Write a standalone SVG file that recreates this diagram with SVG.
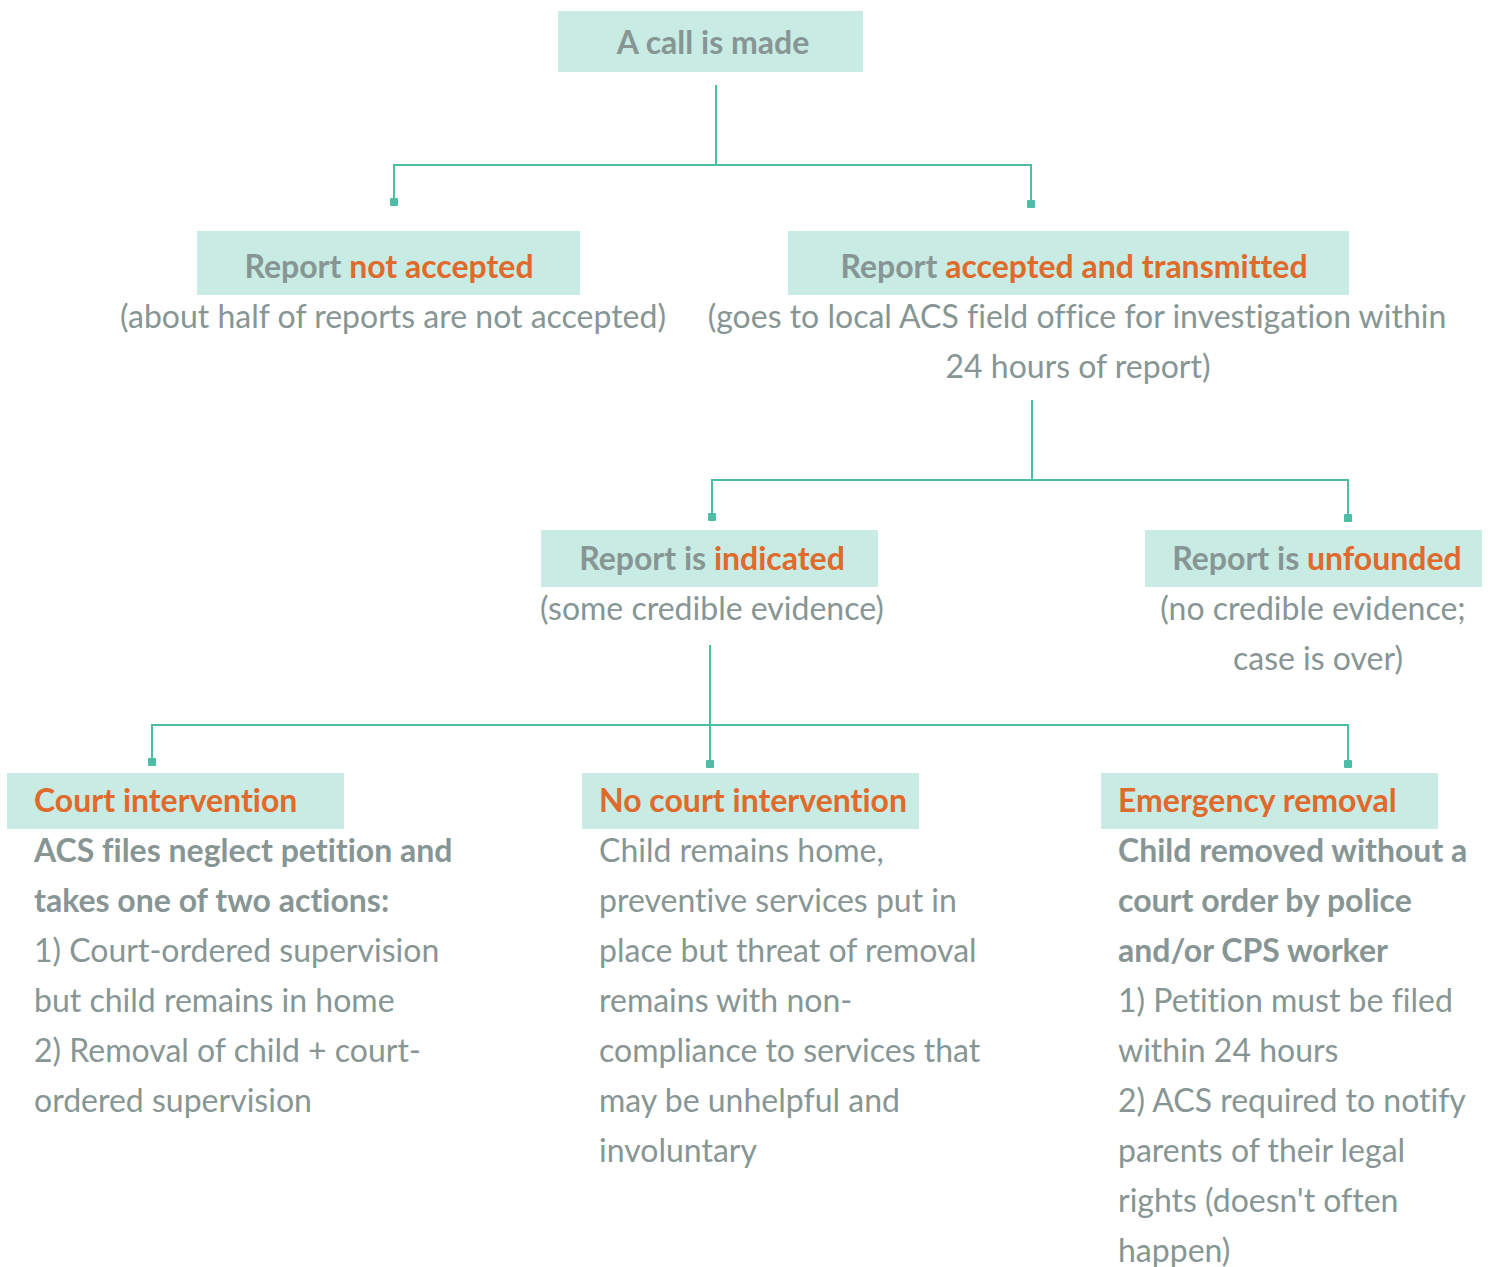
<svg xmlns="http://www.w3.org/2000/svg" width="1488" height="1267" viewBox="0 0 1488 1267">
<defs>
<style>
.box{fill:#c8ebe3}
.t{font-family:Lato,"Open Sans","Liberation Sans",sans-serif;font-size:32px;fill:#879694;font-variant-ligatures:none;font-feature-settings:"liga" 0}
.b{font-weight:700}
.o{fill:#df6a2c;font-weight:700}
.c{text-anchor:middle}
.ln{fill:none;stroke:#4dbea6;stroke-width:2}
</style>
<marker id="sq" viewBox="0 0 8 8" refX="4" refY="4" markerWidth="8" markerHeight="8" markerUnits="userSpaceOnUse">
<rect x="0" y="0" width="8" height="8" rx="1" fill="#4dbea6"/>
</marker>
</defs>
<rect width="1488" height="1267" fill="#ffffff"/>
<g id="connectors">
<path class="ln" d="M716 85 V165"/>
<path class="ln" d="M716 165 H394 V202" marker-end="url(#sq)"/>
<path class="ln" d="M716 165 H1031 V204" marker-end="url(#sq)"/>
<path class="ln" d="M1032 400 V480"/>
<path class="ln" d="M1032 480 H712 V517" marker-end="url(#sq)"/>
<path class="ln" d="M1032 480 H1348 V518" marker-end="url(#sq)"/>
<path class="ln" d="M710 645 V764" marker-end="url(#sq)"/>
<path class="ln" d="M710 725 H152 V762" marker-end="url(#sq)"/>
<path class="ln" d="M710 725 H1348 V764" marker-end="url(#sq)"/>
</g>
<g id="call">
<rect class="box" x="558" y="11" width="305" height="61"/>
<text class="t b c" x="713" y="54">A call is made</text>
</g>
<g id="not-accepted">
<rect class="box" x="197" y="231" width="383" height="64"/>
<text class="t b c" x="389" y="278">Report <tspan class="o">not accepted</tspan></text>
<text class="t c" x="393" y="328">(about half of reports are not accepted)</text>
</g>
<g id="accepted">
<rect class="box" x="788" y="231" width="561" height="64"/>
<text class="t b c" x="1074" y="278">Report <tspan class="o">accepted and transmitted</tspan></text>
<text class="t c" x="1077" y="328">(goes to local ACS field office for investigation within</text>
<text class="t c" x="1078" y="378">24 hours of report)</text>
</g>
<g id="indicated">
<rect class="box" x="541" y="530" width="337" height="57"/>
<text class="t b c" x="712" y="570">Report is <tspan class="o">indicated</tspan></text>
<text class="t c" x="712" y="620">(some credible evidence)</text>
</g>
<g id="unfounded">
<rect class="box" x="1145" y="530" width="337" height="57"/>
<text class="t b c" x="1317" y="570">Report is <tspan class="o">unfounded</tspan></text>
<text class="t c" x="1313" y="620">(no credible evidence;</text>
<text class="t c" x="1318" y="670">case is over)</text>
</g>
<g id="court">
<rect class="box" x="7" y="773" width="337" height="56"/>
<text class="t o" x="34" y="812">Court intervention</text>
<text class="t b" x="34" y="862">ACS files neglect petition and</text>
<text class="t b" x="34" y="912">takes one of two actions:</text>
<text class="t" x="34" y="962">1) Court-ordered supervision</text>
<text class="t" x="34" y="1012">but child remains in home</text>
<text class="t" x="34" y="1062">2) Removal of child + court-</text>
<text class="t" x="34" y="1112">ordered supervision</text>
</g>
<g id="no-court">
<rect class="box" x="582" y="773" width="337" height="56"/>
<text class="t o" x="599" y="812">No court intervention</text>
<text class="t" x="599" y="862">Child remains home,</text>
<text class="t" x="599" y="912">preventive services put in</text>
<text class="t" x="599" y="962">place but threat of removal</text>
<text class="t" x="599" y="1012">remains with non-</text>
<text class="t" x="599" y="1062">compliance to services that</text>
<text class="t" x="599" y="1112">may be unhelpful and</text>
<text class="t" x="599" y="1162">involuntary</text>
</g>
<g id="emergency">
<rect class="box" x="1101" y="773" width="337" height="56"/>
<text class="t o" x="1118" y="812">Emergency removal</text>
<text class="t b" x="1118" y="862">Child removed without a</text>
<text class="t b" x="1118" y="912">court order by police</text>
<text class="t b" x="1118" y="962">and/or CPS worker</text>
<text class="t" x="1118" y="1012">1) Petition must be filed</text>
<text class="t" x="1118" y="1062">within 24 hours</text>
<text class="t" x="1118" y="1112">2) ACS required to notify</text>
<text class="t" x="1118" y="1162">parents of their legal</text>
<text class="t" x="1118" y="1212">rights (doesn't often</text>
<text class="t" x="1118" y="1262">happen)</text>
</g>
</svg>
